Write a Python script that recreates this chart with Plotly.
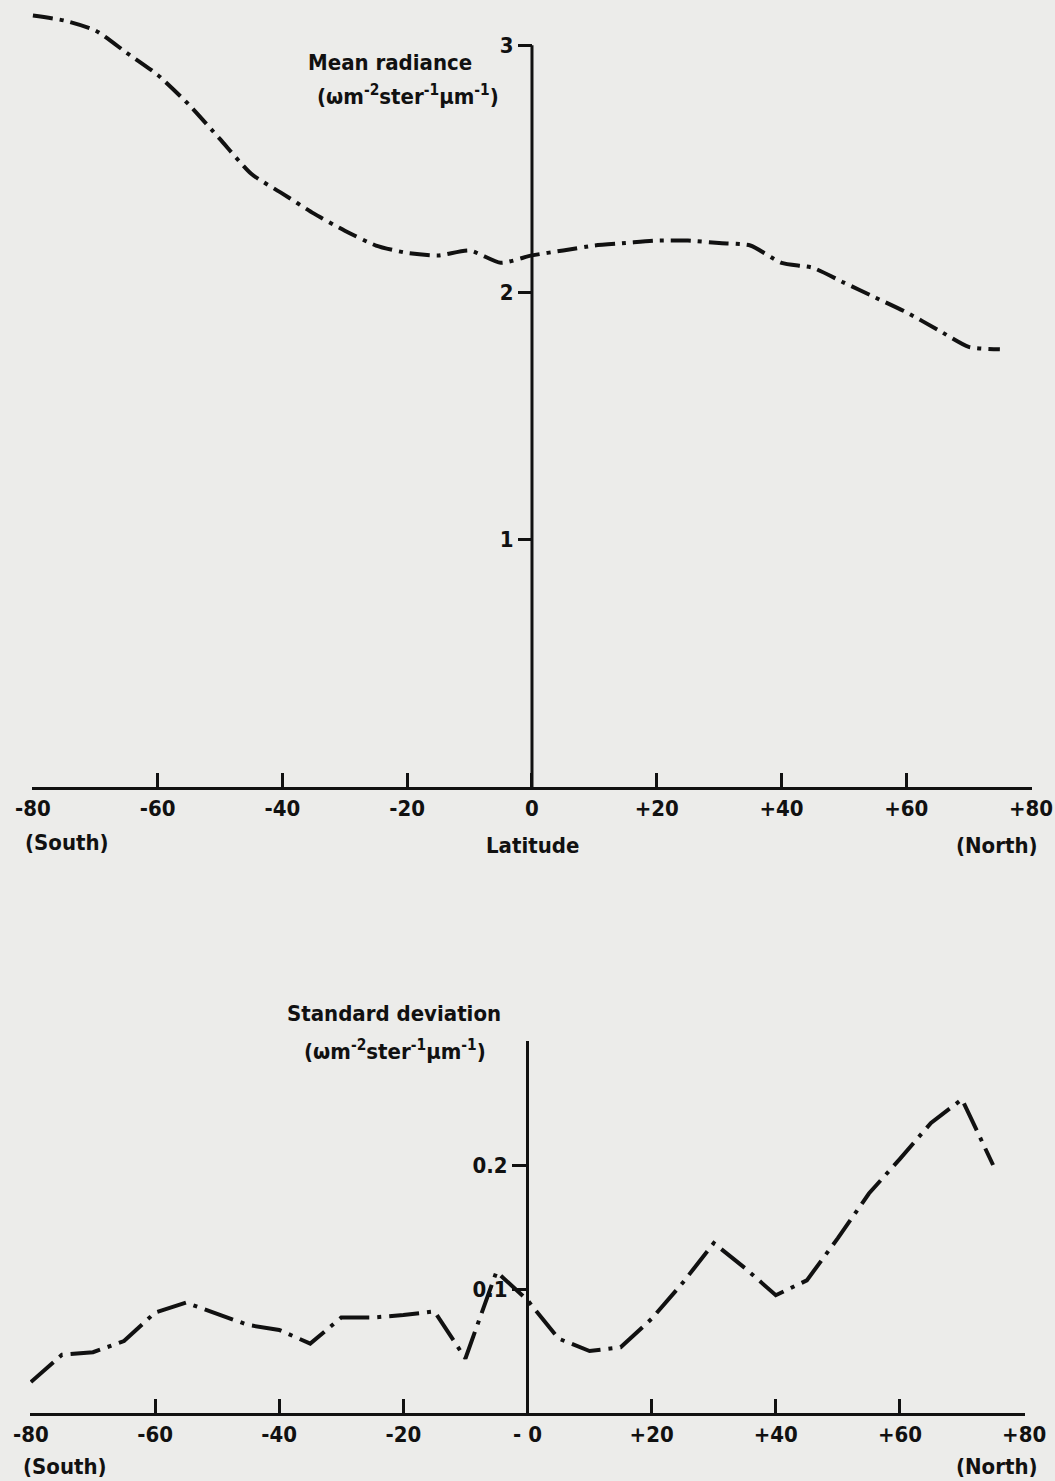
import plotly.graph_objects as go

# ---------------- data ----------------
latitude = [-80, -75, -70, -65, -60, -55, -50, -45, -40, -35, -30, -25, -20, -15, -10, -5,
            0, 5, 10, 15, 20, 25, 30, 35, 40, 45, 50, 55, 60, 65, 70, 75]

mean_radiance = [3.12, 3.10, 3.06, 2.97, 2.88, 2.76, 2.62, 2.48, 2.40, 2.32, 2.25, 2.19,
                 2.16, 2.15, 2.17, 2.12, 2.15, 2.17, 2.19, 2.20, 2.21, 2.21, 2.20, 2.19,
                 2.12, 2.10, 2.04, 1.98, 1.92, 1.85, 1.78, 1.77]

std_dev = [0.025, 0.047, 0.049, 0.058, 0.081, 0.089, 0.080, 0.071, 0.067, 0.056, 0.077,
           0.077, 0.079, 0.082, 0.044, 0.114, 0.091, 0.060, 0.050, 0.053, 0.076, 0.105,
           0.137, 0.117, 0.095, 0.107, 0.141, 0.177, 0.205, 0.234, 0.253, 0.200]

x_tick_vals = [-80, -60, -40, -20, 0, 20, 40, 60, 80]
top_x_labels = ["-80", "-60", "-40", "-20", "0", "+20", "+40", "+60", "+80"]
bottom_x_labels = ["-80", "-60", "-40", "-20", "- 0", "+20", "+40", "+60", "+80"]
top_y_ticks = [1, 2, 3]
bottom_y_ticks = [0.1, 0.2]

# ---------------- style ----------------
INK = "#111111"
BG = "#ececea"
FONT = "DejaVu Sans Condensed, Liberation Sans Narrow, Arial Narrow, DejaVu Sans, sans-serif"

fig = go.Figure()

fig.add_trace(go.Scatter(
    x=latitude, y=mean_radiance, xaxis="x", yaxis="y", mode="lines",
    line=dict(color=INK, width=4, dash="20px,7px,4px,7px", shape="spline", smoothing=0.6),
    showlegend=False, hoverinfo="x+y"))

fig.add_trace(go.Scatter(
    x=latitude, y=std_dev, xaxis="x2", yaxis="y2", mode="lines",
    line=dict(color=INK, width=4, dash="30px,8px,4px,8px"),
    showlegend=False, hoverinfo="x+y"))

tickfont = dict(family=FONT, size=22, color=INK, weight="bold")

common_x = dict(range=[-80.15, 80.15], tickvals=x_tick_vals, ticks="inside", ticklen=14,
                tickwidth=3, tickcolor=INK, showline=True, linewidth=3, linecolor=INK,
                showgrid=False, zeroline=False, tickfont=tickfont, fixedrange=True,
                automargin=False)

fig.update_layout(
    width=1055, height=1481, autosize=False,
    margin=dict(l=0, r=0, t=0, b=0, autoexpand=False),
    paper_bgcolor=BG, plot_bgcolor=BG,
    xaxis=dict(domain=[0.0303, 0.9782], anchor="y", ticktext=top_x_labels, **common_x),
    yaxis=dict(domain=[0.4686, 0.9995], range=[0, 3.18], anchor="free", position=0.5043,
               tickvals=top_y_ticks, ticktext=[str(v) for v in top_y_ticks],
               ticks="outside", ticklen=14, tickwidth=3, tickcolor=INK,
               showline=False, showgrid=False, zeroline=False, tickfont=tickfont,
               automargin=False),
    yaxis3=dict(overlaying="y", range=[0, 3.18], anchor="free", position=0.5043,
                tickvals=top_y_ticks, ticks="inside", ticklen=12, tickwidth=3,
                tickcolor=INK, showticklabels=False, showline=False, showgrid=False,
                zeroline=False, automargin=False),
    xaxis2=dict(domain=[0.0284, 0.9716], anchor="y2", ticktext=bottom_x_labels, **common_x),
    yaxis2=dict(domain=[0.0459, 0.2971], range=[0, 0.3], anchor="free", position=0.4995,
                tickvals=bottom_y_ticks, ticktext=["0.1", "0.2"],
                ticks="outside", ticklen=14, tickwidth=3, tickcolor=INK,
                showline=True, linewidth=3, linecolor=INK,
                showgrid=False, zeroline=False, tickfont=tickfont, automargin=False),
    yaxis4=dict(overlaying="y2", range=[0, 0.3], anchor="free", position=0.4995,
                tickvals=bottom_y_ticks, ticks="inside", ticklen=12, tickwidth=3,
                tickcolor=INK, showticklabels=False, showline=False, showgrid=False,
                zeroline=False, automargin=False),
)

# vertical axis line of the top panel (from 0 up to 3)
fig.add_shape(type="line", xref="x", yref="y", x0=0, x1=0, y0=0, y1=3,
              line=dict(color=INK, width=3))

lab = dict(family=FONT, size=22, color=INK, weight="bold")
units = "(\u03c9m<sup>-2</sup>ster<sup>-1</sup>\u03bcm<sup>-1</sup>)"

annos = [
    dict(text="(South)", x=0.022, y=0.4308, xanchor="left"),
    dict(text="Latitude", x=0.5043, y=0.4294, xanchor="center"),
    dict(text="(North)", x=0.9858, y=0.4288, xanchor="right"),
    dict(text="Mean radiance", x=0.3697, y=0.9581, xanchor="center"),
    dict(text=units, x=0.3867, y=0.9359, xanchor="center"),
    dict(text="Standard deviation", x=0.3735, y=0.3160, xanchor="center"),
    dict(text=units, x=0.3745, y=0.2910, xanchor="center"),
    dict(text="(South)", x=0.020, y=0.0101, xanchor="left"),
    dict(text="(North)", x=0.9858, y=0.0095, xanchor="right"),
]
for a in annos:
    fig.add_annotation(xref="paper", yref="paper", yanchor="middle", showarrow=False,
                       font=lab, **a)

fig.write_html("out.html")
